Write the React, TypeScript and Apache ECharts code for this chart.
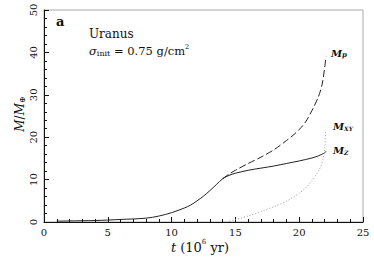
import React, { useEffect, useRef } from "react";
import * as echarts from "echarts";

const tCore = [1, 2, 4, 6, 8, 9, 10, 11, 11.5, 12, 12.5, 13, 13.5, 14];
const mCore = [0.2, 0.25, 0.35, 0.6, 0.9, 1.4, 2.2, 3.3, 4.0, 5.0, 6.1, 7.4, 8.8, 10.2];

const tZ = [14.5, 15, 16, 17, 18, 19, 20, 21, 21.5, 22, 22.1];
const mZ = [11.0, 11.5, 12.2, 12.7, 13.2, 13.8, 14.4, 15.1, 15.6, 16.3, 16.7];

const tP = [14.5, 15, 16, 17, 18, 19, 19.5, 20, 20.5, 21, 21.5, 21.8, 22.0, 22.1];
const mP = [11.3, 12.2, 13.8, 15.3, 17.0, 19.2, 20.4, 21.8, 23.6, 26.3, 29.5, 32.5, 36.5, 39.0];

const tXY = [14.3, 15, 16, 17, 18, 19, 19.5, 20, 20.5, 21, 21.5, 21.8, 22.0, 22.05];
const mXY = [0, 0.6, 1.4, 2.5, 3.6, 4.9, 5.8, 6.8, 8.0, 9.8, 12.0, 14.0, 17.5, 21.7];

const xTicks = [0, 5, 10, 15, 20, 25];
const yTicks = [0, 10, 20, 30, 40, 50];

const SERIF = "DejaVu Serif";

const pairs = (ts: number[], ms: number[]) => ts.map((t, i) => [t, ms[i]]);

const st = (size: number, lh: number, va: string, italic = false, bold = false) => ({
  fontFamily: SERIF,
  fontSize: size,
  fontStyle: italic ? "italic" : "normal",
  fontWeight: bold ? "bold" : "normal",
  lineHeight: lh,
  verticalAlign: va,
  color: "#111",
});

export default function App() {
  const ref = useRef<HTMLDivElement>(null);
  useEffect(() => {
    if (!ref.current) return;
    const chart = echarts.init(ref.current, null, { renderer: "svg" });
    const core = pairs(tCore, mCore);
    const lineCol = "#222";
    chart.setOption({
      animation: false,
      backgroundColor: "#fff",
      textStyle: { fontFamily: SERIF },
      grid: {
        left: 44,
        right: 11,
        top: 10,
        bottom: 35,
        show: true,
        borderColor: "#aaa",
        borderWidth: 1,
      },
      xAxis: {
        type: "value",
        min: xTicks[0],
        max: xTicks[xTicks.length - 1],
        interval: 5,
        axisLine: { show: true, lineStyle: { color: "#111", width: 1 } },
        axisTick: { show: true, inside: true, length: 5, lineStyle: { color: "#111" } },
        minorTick: { show: true, splitNumber: 5, length: 3, lineStyle: { color: "#111" } },
        splitLine: { show: false },
        axisLabel: { fontFamily: SERIF, fontSize: 10, color: "#111", margin: 5 },
      },
      yAxis: {
        type: "value",
        min: yTicks[0],
        max: yTicks[yTicks.length - 1],
        interval: 10,
        axisLine: { show: true, lineStyle: { color: "#111", width: 1 } },
        axisTick: { show: true, inside: true, length: 5, lineStyle: { color: "#111" } },
        minorTick: { show: true, splitNumber: 5, length: 3, lineStyle: { color: "#111" } },
        splitLine: { show: false },
        axisLabel: {
          fontFamily: SERIF,
          fontSize: 10,
          color: "#111",
          rotate: 90,
          margin: 6,
        },
      },
      series: [
        {
          name: "Mz",
          type: "line",
          showSymbol: false,
          smooth: 0.3,
          data: [...core, ...pairs(tZ, mZ)],
          lineStyle: { color: lineCol, width: 1 },
        },
        {
          name: "Mp",
          type: "line",
          showSymbol: false,
          smooth: 0.3,
          data: [core[core.length - 1], ...pairs(tP, mP)],
          lineStyle: { color: lineCol, width: 1, type: [7, 3] },
        },
        {
          name: "Mxy",
          type: "line",
          showSymbol: false,
          smooth: 0.3,
          data: pairs(tXY, mXY),
          lineStyle: { color: "#999", width: 1, type: [1, 2] },
        },
      ],
      graphic: [
        {
          type: "text",
          left: 56,
          top: 15,
          style: { text: "a", fontFamily: SERIF, fontSize: 13, fontWeight: "bold", fill: "#111" },
        },
        {
          type: "text",
          left: 89,
          top: 28,
          style: { text: "Uranus", fontFamily: SERIF, fontSize: 12, fill: "#111" },
        },
        {
          type: "text",
          left: 89,
          top: 43,
          style: {
            text: "{i|σ}{sub|init}{n| = 0.75 g/cm}{sup|2}",
            fill: "#111",
            rich: {
              i: st(11.5, 14, "bottom", true),
              n: st(11.5, 14, "bottom"),
              sub: st(8, 7, "bottom"),
              sup: st(6.5, 7, "top"),
            },
          },
        },
        {
          type: "text",
          left: 331,
          top: 48,
          style: {
            text: "{m|M}{s|p}",
            fill: "#111",
            rich: {
              m: st(10, 12, "bottom", true, true),
              s: st(7, 6, "bottom", true, true),
            },
          },
        },
        {
          type: "text",
          left: 333,
          top: 121,
          style: {
            text: "{m|M}{s|XY}",
            fill: "#111",
            rich: {
              m: st(10, 12, "bottom", true, true),
              s: st(6, 6, "bottom", true, true),
            },
          },
        },
        {
          type: "text",
          left: 333,
          top: 145,
          style: {
            text: "{m|M}{s|Z}",
            fill: "#111",
            rich: {
              m: st(10, 12, "bottom", true, true),
              s: st(6, 6, "bottom", true, true),
            },
          },
        },
        {
          type: "text",
          x: 18,
          y: 114,
          rotation: Math.PI / 2,
          style: {
            text: "{i|M}{n|/}{i|M}{s|⊕}",
            fill: "#111",
            align: "center",
            verticalAlign: "middle",
            rich: {
              i: st(12, 16, "bottom", true),
              n: st(12, 16, "bottom"),
              s: st(8, 7, "bottom"),
            },
          },
        },
        {
          type: "text",
          x: 200,
          y: 246,
          style: {
            text: "{i|t}{n| (10}{sup|6}{n| yr)}",
            fill: "#111",
            align: "center",
            verticalAlign: "middle",
            rich: {
              i: st(13, 16, "bottom", true),
              n: st(13, 16, "bottom"),
              sup: st(7, 8, "top"),
            },
          },
        },
      ],
    });
    return () => chart.dispose();
  }, []);
  return <div ref={ref} style={{ width: 374, height: 257, position: "absolute", left: 0, top: 0 }} />;
}
